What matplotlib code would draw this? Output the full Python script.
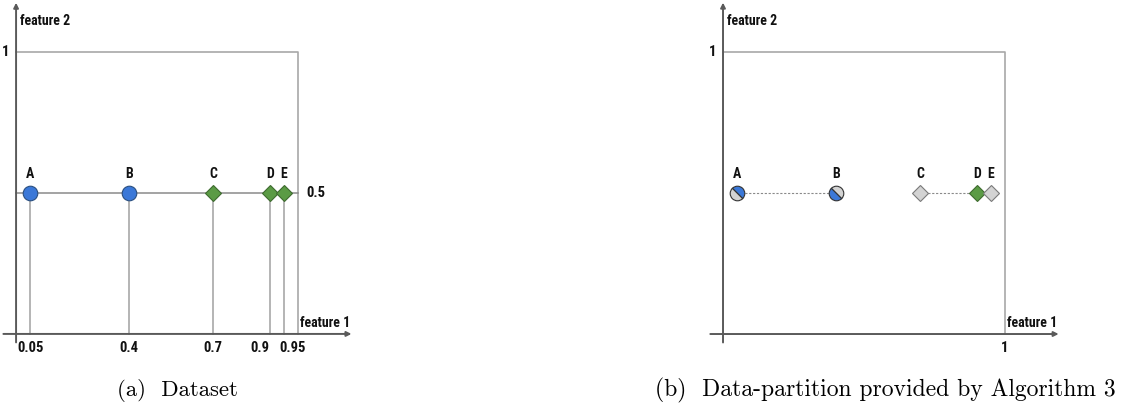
import matplotlib
matplotlib.use("Agg")
import matplotlib.pyplot as plt
from matplotlib.markers import MarkerStyle
from matplotlib.transforms import Affine2D

# data
names = ["A", "B", "C", "D", "E"]
feat1 = [0.05, 0.4, 0.7, 0.9, 0.95]
feat2 = [0.5, 0.5, 0.5, 0.5, 0.5]
markers = ["o", "o", "D", "D", "D"]
colors = ["#3b78d8", "#3b78d8", "#5b9b45", "#5b9b45", "#5b9b45"]
tick_labels = ["0.05", "0.4", "0.7", "0.9", "0.95"]
tick_shift = [0, 0, 0, -7, 6]  # points, to keep 0.9/0.95 apart

# partition (right panel)
part_fill = ["#3b78d8", "#d3d3d3", "#d3d3d3", "#5b9b45", "#d3d3d3"]
part_alt = ["#d3d3d3", "#3b78d8", "#d3d3d3", "#5b9b45", "#d3d3d3"]
links = [(0, 1), (2, 3)]

BLUE_EDGE = "#2a4f80"
GREEN_EDGE = "#3e6b2f"
GREY_EDGE = "#7a7a7a"
AXC = "#5a5a5a"
LINEC = "#a8a8a8"
FONT = dict(family=["Roboto Condensed", "Oswald", "Barlow Condensed", "Archivo Narrow", "DejaVu Sans"],
            fontweight="bold", color="#111111")

fig = plt.figure(figsize=(11.28, 4.08), dpi=100)


def base_axes(ax):
    ax.set_aspect("equal")
    ax.axis("off")
    # axes with arrows
    ax.annotate("", xy=(0, 1.175), xytext=(0, -0.03),
                arrowprops=dict(arrowstyle="-|>", color=AXC, lw=1.4, mutation_scale=7, shrinkA=0, shrinkB=0))
    ax.annotate("", xy=(1.19, 0), xytext=(-0.045, 0),
                arrowprops=dict(arrowstyle="-|>", color=AXC, lw=1.4, mutation_scale=7, shrinkA=0, shrinkB=0))
    # unit box
    ax.plot([0, 1, 1], [1, 1, 0], color=LINEC, lw=1.2, zorder=1)
    ax.text(0.015, 1.11, "feature 2", fontsize=10, ha="left", va="center", **FONT)
    ax.text(1.185, 0.04, "feature 1", fontsize=10, ha="right", va="center", **FONT)
    ax.text(-0.025, 1.0, "1", fontsize=10.5, ha="right", va="center", **FONT)


# (a) dataset
ax1 = fig.add_axes([0, 0, 365 / 1128, 1])
ax1.set_xlim(-0.057, 1.238)
ax1.set_ylim(-0.262, 1.184)
base_axes(ax1)
ax1.plot([0, 1], [0.5, 0.5], color="#8a8a8a", lw=1.1, zorder=1)
ax1.text(1.03, 0.5, "0.5", fontsize=10.5, ha="left", va="center", **FONT)
for i in range(len(names)):
    ax1.plot([feat1[i], feat1[i]], [0, feat2[i]], color=LINEC, lw=1.2, zorder=1)
    edge = BLUE_EDGE if markers[i] == "o" else GREEN_EDGE
    ms = 10.5 if markers[i] == "o" else 8.5
    ax1.plot(feat1[i], feat2[i], marker=markers[i], ms=ms, mfc=colors[i], mec=edge, mew=0.8, zorder=3)
    ax1.annotate(names[i], (feat1[i], feat2[i]), xytext=(0, 9), textcoords="offset points",
                 fontsize=10, ha="center", va="bottom", **FONT)
    ax1.annotate(tick_labels[i], (feat1[i], 0), xytext=(tick_shift[i], -5), textcoords="offset points",
                 fontsize=10.5, ha="center", va="top", **FONT)

# (b) partition
ax2 = fig.add_axes([700 / 1128, 0, 428 / 1128, 1])
ax2.set_xlim(-0.0816, 1.436)
ax2.set_ylim(-0.262, 1.184)
base_axes(ax2)
ax2.annotate("1", (1, 0), xytext=(0, -5), textcoords="offset points",
             fontsize=10.5, ha="center", va="top", **FONT)
for a, b in links:
    ax2.plot([feat1[a], feat1[b]], [feat2[a], feat2[b]], color="#8a8a8a", lw=0.8, ls=(0, (2, 1.5)), zorder=1)
for i in range(len(names)):
    if markers[i] == "o":
        ms_obj = MarkerStyle("o", fillstyle="right", transform=Affine2D().rotate_deg(45))
        ax2.plot(feat1[i], feat2[i], marker=ms_obj, ms=10.5, mfc=part_fill[i], mfcalt=part_alt[i],
                 mec="#333333", mew=0.8, zorder=3)
    else:
        edge = GREEN_EDGE if part_fill[i] == "#5b9b45" else GREY_EDGE
        ax2.plot(feat1[i], feat2[i], marker="D", ms=8.5, mfc=part_fill[i], mec=edge, mew=0.8, zorder=3)
    ax2.annotate(names[i], (feat1[i], feat2[i]), xytext=(0, 9), textcoords="offset points",
                 fontsize=10, ha="center", va="bottom", **FONT)

# captions
fig.text(177 / 1128, 1 - 390 / 408, "(a)  Dataset", family="cmr10", fontsize=16.4, ha="center", va="center")
fig.text(885 / 1128, 1 - 390 / 408, "(b)  Data-partition provided by Algorithm 3", family="cmr10",
         fontsize=17, ha="center", va="center")

fig.savefig("out.png", dpi=100)
